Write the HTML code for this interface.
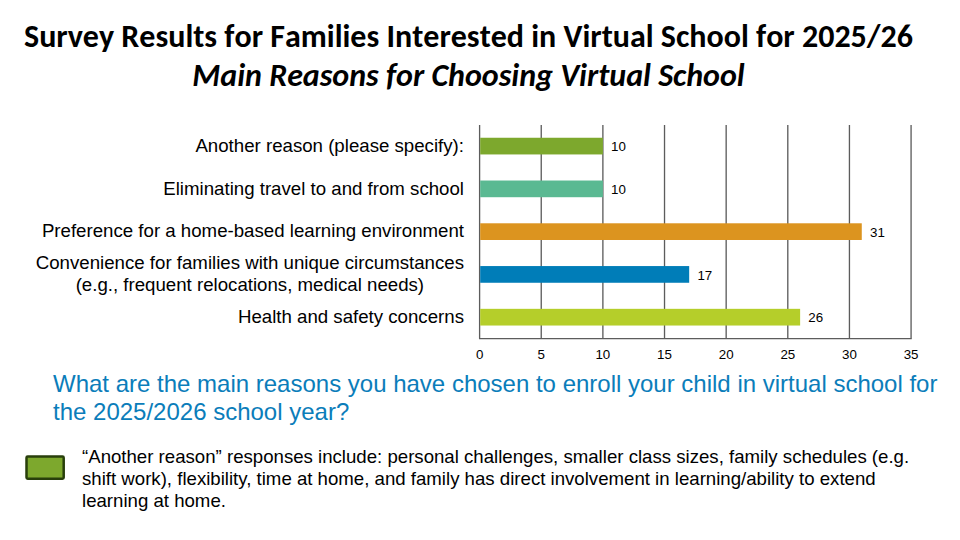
<!DOCTYPE html>
<html>
<head>
<meta charset="utf-8">
<style>
html,body{margin:0;padding:0;background:#fff;}
body{width:960px;height:540px;position:relative;overflow:hidden;font-family:"Liberation Sans",Arial,sans-serif;color:#000;}
.t{position:absolute;white-space:nowrap;}
#title{left:-231.5px;width:1400px;text-align:center;top:18.2px;font:bold 32px/38px "Carlito","Liberation Sans",sans-serif;font-kerning:none;}
#sub{left:-231.5px;width:1400px;text-align:center;top:57px;font:italic bold 32px/38px "Carlito","Liberation Sans",sans-serif;font-kerning:none;}
.lab{position:absolute;right:496px;text-align:center;font-size:18.67px;line-height:21.4px;white-space:nowrap;}
.val{position:absolute;font-size:13.33px;line-height:16px;white-space:nowrap;}
.tick{position:absolute;font-size:13.33px;line-height:16px;width:40px;text-align:center;top:346.8px;}
#q{left:53px;top:369.5px;font-size:24px;line-height:28.3px;color:#0B7DBA;white-space:normal;width:900px;}
#note{left:82px;top:446px;font-size:18.64px;line-height:22.2px;white-space:normal;width:860px;}
svg{position:absolute;left:0;top:0;}
#ts,#ss{display:inline-block;transform-origin:50% 50%;}
</style>
</head>
<body>
<div id="title" class="t"><span id="ts">Survey Results for Families Interested in Virtual School for 2025/26</span></div>
<div id="sub" class="t"><span id="ss">Main Reasons for Choosing Virtual School</span></div>

<svg width="960" height="540" viewBox="0 0 960 540">
  <g stroke="#5c5c5c" stroke-width="1.33" fill="none">
    <line x1="479.6" y1="125" x2="479.6" y2="338.6"/>
    <line x1="541.24" y1="125" x2="541.24" y2="338.6"/>
    <line x1="602.88" y1="125" x2="602.88" y2="338.6"/>
    <line x1="664.52" y1="125" x2="664.52" y2="338.6"/>
    <line x1="726.16" y1="125" x2="726.16" y2="338.6"/>
    <line x1="787.8" y1="125" x2="787.8" y2="338.6"/>
    <line x1="849.44" y1="125" x2="849.44" y2="338.6"/>
    <line x1="911.08" y1="125" x2="911.08" y2="338.6"/>
    <line x1="479" y1="338.6" x2="911.7" y2="338.6"/>
  </g>
  <rect x="480.2" y="137.75" width="122.68" height="16.7" fill="#7DA82D"/>
  <rect x="480.2" y="180.52" width="122.68" height="16.7" fill="#5AB992"/>
  <rect x="480.2" y="223.29" width="381.57" height="16.7" fill="#DC941F"/>
  <rect x="480.2" y="266.06" width="208.98" height="16.7" fill="#007DB8"/>
  <rect x="480.2" y="308.83" width="319.93" height="16.7" fill="#B5CE2A"/>
</svg>

<div class="lab" style="top:134.9px">Another reason (please specify):</div>
<div class="lab" style="top:177.6px">Eliminating travel to and from school</div>
<div class="lab" style="top:220.2px">Preference for a home-based learning environment</div>
<div class="lab" style="top:252.2px">Convenience for families with unique circumstances<br>(e.g., frequent relocations, medical needs)</div>
<div class="lab" style="top:305.6px">Health and safety concerns</div>

<div class="val" style="left:611.08px;top:139.20px">10</div>
<div class="val" style="left:611.08px;top:181.97px">10</div>
<div class="val" style="left:869.97px;top:224.74px">31</div>
<div class="val" style="left:697.38px;top:267.51px">17</div>
<div class="val" style="left:808.33px;top:310.28px">26</div>

<div class="tick" style="left:459.6px">0</div>
<div class="tick" style="left:521.24px">5</div>
<div class="tick" style="left:582.88px">10</div>
<div class="tick" style="left:644.52px">15</div>
<div class="tick" style="left:706.16px">20</div>
<div class="tick" style="left:767.8px">25</div>
<div class="tick" style="left:829.44px">30</div>
<div class="tick" style="left:891.08px">35</div>

<div id="q" class="t">What are the main reasons you have chosen to enroll your child in virtual school for the 2025/2026 school year?</div>

<svg width="960" height="540" viewBox="0 0 960 540"><rect x="26.5" y="456.5" width="37.2" height="22.3" rx="1.2" fill="#7DA82D" stroke="#283F0B" stroke-width="2.5"/></svg>
<div id="note" class="t">“Another reason” responses include: personal challenges, smaller class sizes, family schedules (e.g. shift work), flexibility, time at home, and family has direct involvement in learning/ability to extend learning at home.</div>
<script>
(function(){
  var fit=[["ts",888.7],["ss",552.2]];
  for(var i=0;i<fit.length;i++){
    var el=document.getElementById(fit[i][0]);
    if(!el)continue;
    var w=el.getBoundingClientRect().width;
    if(w>0&&Math.abs(w-fit[i][1])/fit[i][1]>0.02){
      el.style.transform="scaleX("+(fit[i][1]/w).toFixed(4)+")";
    }
  }
})();
</script>
</body>
</html>
